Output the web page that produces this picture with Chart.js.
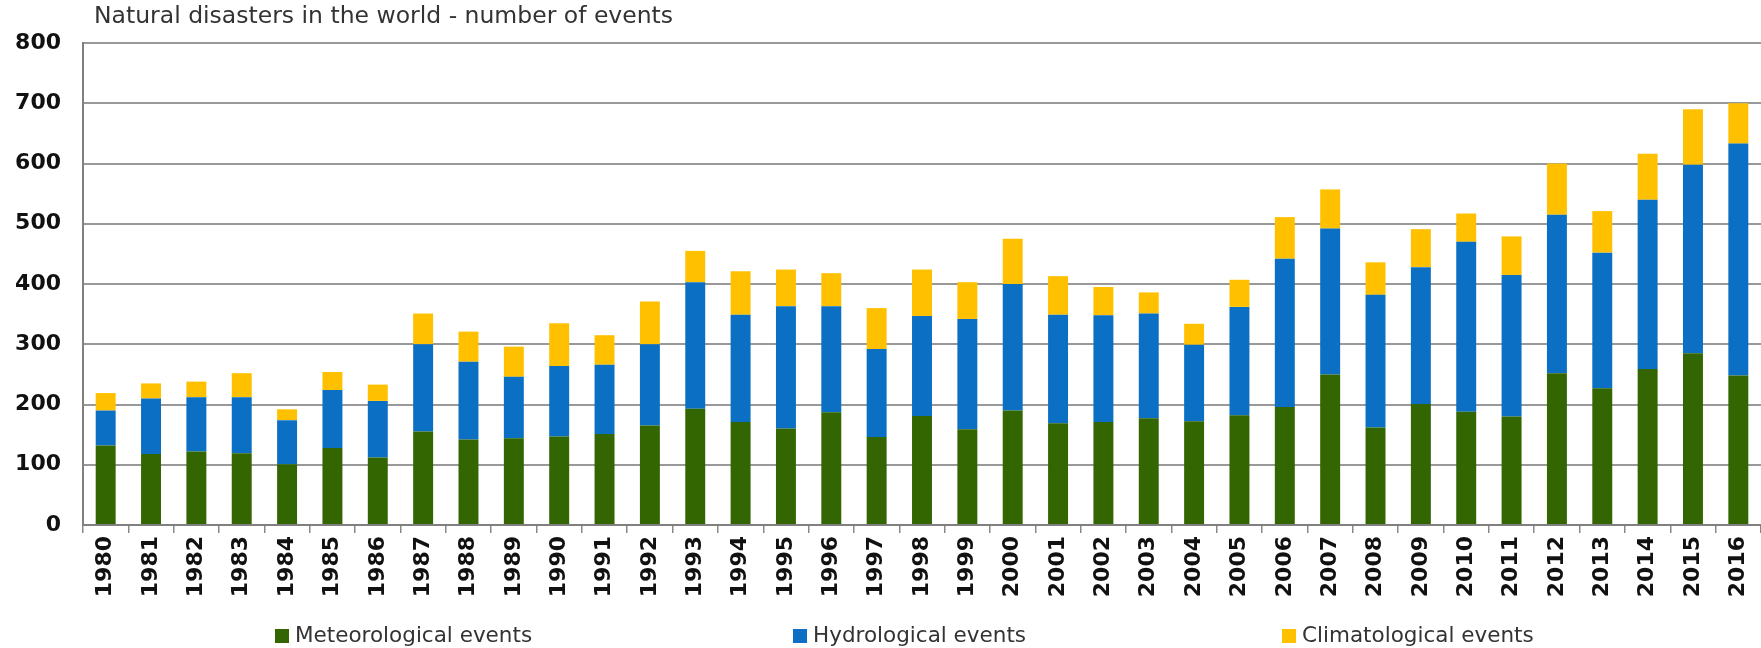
<!DOCTYPE html>
<html>
<head>
<meta charset="utf-8">
<title>Natural disasters in the world</title>
<script src="https://cdn.jsdelivr.net/npm/chart.js@4.4.1/dist/chart.umd.min.js"></script>
<style>
  html, body { margin: 0; padding: 0; background: #fff; }
  #wrap { width: 1761px; height: 648px; }
</style>
</head>
<body>
<div id="wrap"><canvas id="disasters" width="1761" height="648"></canvas></div>
<script>
// Natural disasters in the world - number of events (stacked bars)

const years = ['1980', '1981', '1982', '1983', '1984', '1985', '1986', '1987', '1988', '1989',
    '1990', '1991', '1992', '1993', '1994', '1995', '1996', '1997', '1998', '1999',
    '2000', '2001', '2002', '2003', '2004', '2005', '2006', '2007', '2008', '2009',
    '2010', '2011', '2012', '2013', '2014', '2015', '2016'];

const meteorological = [132, 118, 122, 119, 101, 128, 112, 155, 142, 144,
    147, 151, 165, 193, 171, 160, 187, 146, 181, 159,
    190, 169, 171, 177, 172, 182, 196, 250, 162, 201,
    188, 180, 252, 227, 259, 285, 248];

const hydrological = [58, 92, 90, 93, 73, 96, 94, 145, 129, 102,
    117, 115, 135, 210, 178, 203, 176, 146, 166, 183,
    210, 180, 177, 174, 127, 180, 246, 242, 220, 227,
    282, 235, 263, 225, 281, 313, 385];

const climatological = [29, 25, 26, 40, 18, 30, 27, 51, 50, 50,
    71, 49, 71, 52, 72, 61, 55, 68, 77, 61,
    75, 64, 47, 35, 35, 45, 69, 65, 54, 63,
    47, 64, 85, 69, 76, 92, 67];

const yMin = 0;
const yMax = 800;
const yStep = 100;

const titleText = 'Natural disasters in the world - number of events';

// title sits at the top-left, just right of the value axis
const titlePlugin = {
    id: 'cornerTitle',
    afterDraw(chart) {
        const ctx = chart.ctx;
        ctx.save();
        ctx.font = '23.5px "DejaVu Sans"';
        ctx.fillStyle = '#333';
        ctx.textBaseline = 'middle';
        ctx.fillText(titleText, 94, 17);
        ctx.restore();
    }
};

// legend spread wide along the bottom, like the original
const legendPlugin = {
    id: 'spreadLegend',
    afterDraw(chart) {
        const ctx = chart.ctx;
        const xs = [275, 793, 1282];
        ctx.save();
        ctx.font = '21.5px "DejaVu Sans"';
        ctx.textBaseline = 'middle';
        chart.data.datasets.forEach((ds, i) => {
            ctx.fillStyle = ds.backgroundColor;
            ctx.fillRect(xs[i], 629, 14, 14);
            ctx.fillStyle = '#333';
            ctx.fillText(ds.label, xs[i] + 20, 636);
        });
        ctx.restore();
    }
};

const tickFont = { family: '"DejaVu Sans", sans-serif', size: 22, weight: 'bold' };

const ctx = document.getElementById('disasters').getContext('2d');
new Chart(ctx, {
    type: 'bar',
    data: {
        labels: years,
        datasets: [
            {
                label: 'Meteorological events',
                data: meteorological,
                backgroundColor: '#336600'
            },
            {
                label: 'Hydrological events',
                data: hydrological,
                backgroundColor: '#0b70c3'
            },
            {
                label: 'Climatological events',
                data: climatological,
                backgroundColor: '#ffc000'
            }
        ]
    },
    options: {
        responsive: false,
        animation: false,
        layout: {
            padding: { top: 43, left: 0, right: 0, bottom: 0 }
        },
        datasets: {
            bar: {
                categoryPercentage: 1,
                barPercentage: 0.44
            }
        },
        plugins: {
            legend: { display: false },
            title: { display: false },
            tooltip: { enabled: false }
        },
        scales: {
            x: {
                stacked: true,
                afterFit(scale) {
                    scale.height = 123;
                    // let the plot run to the right edge like the original
                    scale.paddingLeft = 0;
                    scale.paddingRight = 0;
                },
                grid: {
                    drawOnChartArea: false,
                    drawTicks: true,
                    tickLength: 8,
                    color: '#888',
                    lineWidth: 1.5
                },
                border: { color: '#808080', width: 2 },
                ticks: {
                    autoSkip: false,
                    maxRotation: 90,
                    minRotation: 90,
                    padding: 3,
                    color: '#111',
                    font: tickFont
                }
            },
            y: {
                stacked: true,
                min: yMin,
                max: yMax,
                afterFit(scale) { scale.width = 83; },
                grid: {
                    color: '#999',
                    lineWidth: 2,
                    drawTicks: false
                },
                border: { color: '#808080', width: 2 },
                ticks: {
                    stepSize: yStep,
                    padding: 22,
                    color: '#111',
                    font: tickFont
                }
            }
        }
    },
    plugins: [titlePlugin, legendPlugin]
});
</script>
</body>
</html>
